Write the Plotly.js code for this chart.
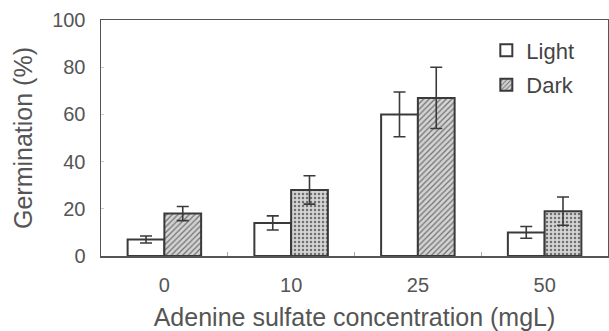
<!DOCTYPE html>
<html><head><meta charset="utf-8">
<script src="https://cdn.plot.ly/plotly-3.0.1.min.js"></script>
<style>html,body{margin:0;padding:0;background:#fff;}</style>
</head><body><div id="chart" style="width:609px;height:331px;"></div>
<script>
const categories = ["0", "10", "25", "50"];
const lightValues = [7, 14, 60, 10];
const lightErrors = [1.5, 3, 9.5, 2.5];
const darkValues = [18, 28, 67, 19];
const darkErrors = [3, 6, 13, 6];
const darkPatterns = ["/", ".", "/", "."];
const yTicks = [0, 20, 40, 60, 80, 100];

const ink = '#3a3a3a';
const traces = [
  {type:'bar', name:'Light', legendgroup:'a', x:categories, y:lightValues,
   marker:{color:'#ffffff', line:{color:ink, width:2}},
   error_y:{type:'data', array:lightErrors, visible:true, color:ink, thickness:1.6, width:6}},
  {type:'bar', name:'Dark', legendgroup:'b', x:categories, y:darkValues,
   marker:{color:'#d0d0d0', line:{color:ink, width:2},
     pattern:{shape:darkPatterns, fgcolor:'#707070', bgcolor:'#d4d4d4', size:4, solidity:0.3}},
   error_y:{type:'data', array:darkErrors, visible:true, color:ink, thickness:1.6, width:6}}
];
const layout = {
  width:609, height:331,
  margin:{l:101, r:1, t:20, b:75},
  paper_bgcolor:'#fff', plot_bgcolor:'#fff',
  font:{family:'"Liberation Sans", Arial, sans-serif', color:'#444'},
  barmode:'group', bargap:0.42, bargroupgap:0,
  showlegend:true,
  legend:{x:0.76, y:0.96, xanchor:'left', yanchor:'top', bgcolor:'rgba(0,0,0,0)',
    font:{size:22, color:'#444'}, itemwidth:30, tracegroupgap:3},
  xaxis:{type:'category', range:[-0.5, 3.5], showline:true, linecolor:'#555', linewidth:1.5, mirror:true,
    ticks:'inside', tickson:'boundaries', ticklen:4, tickcolor:'#aaa', showgrid:false,
    tickfont:{size:20, color:'#555'}, ticklabelstandoff:10,
    title:{text:'Adenine sulfate concentration (mgL)', font:{size:25, color:'#555'}, standoff:14}},
  yaxis:{range:[0, 100], tickvals:yTicks, showline:true, linecolor:'#555', linewidth:1.5, mirror:true,
    ticks:'inside', ticklen:3, tickcolor:'#ccc', showgrid:false, zeroline:false,
    tickfont:{size:20, color:'#555'}, ticklabelstandoff:10,
    title:{text:'Germination (%)', font:{size:25, color:'#555'}, standoff:12}}
};
Plotly.newPlot('chart', traces, layout, {displayModeBar:false, staticPlot:true});
</script></body></html>
